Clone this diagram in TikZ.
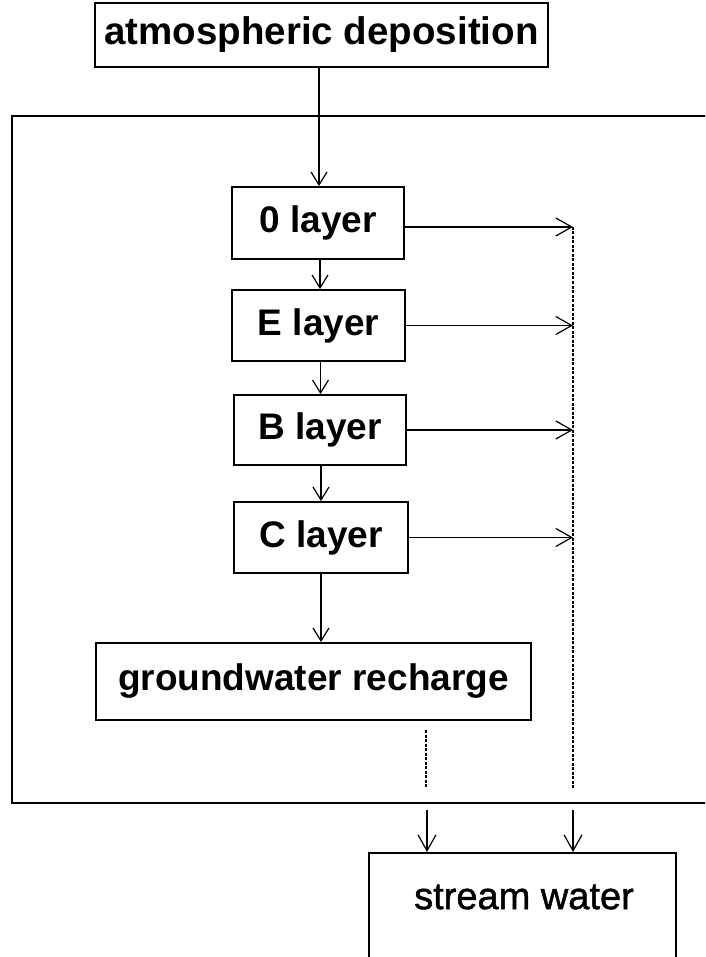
\documentclass[tikz,border=0pt]{standalone}
\usepackage{fontspec}
\setmainfont{Liberation Sans}
\newfontfamily\streamfont[FakeBold=1.2]{Liberation Sans}
\usetikzlibrary{arrows.meta,calc}
\tikzset{
  boxnode/.style={draw, line width=1.8pt, inner sep=0pt, font=\fontsize{37}{44}\selectfont\bfseries},
  flow/.style={line width=1.2pt, -{Straight Barb[length=13pt,width=16pt,line width=1.2pt]}},
  sideflow/.style={line width=1.2pt, -{Straight Barb[length=16pt,width=18pt,line width=1.2pt]}},
  dashline/.style={line width=1.1pt, dash pattern=on 3pt off 1.5pt},
}
\begin{document}
\begin{tikzpicture}[x=1pt,y=-1pt]
\useasboundingbox (0,0) rectangle (705,957);
\clip (0,0) rectangle (705,957);
% frame
\draw[line width=1.8pt] (12,116) rectangle (740,803);
% nodes
\node[boxnode, minimum width=453pt, minimum height=64pt, font=\fontsize{38.5}{44}\selectfont\bfseries] (atm) at (321.5,35) {atmospheric deposition};
\node[boxnode, minimum width=172pt, minimum height=72pt] (o) at (318,223) {0 layer};
\node[boxnode, minimum width=173pt, minimum height=71pt] (e) at (318.5,325.5) {E layer};
\node[boxnode, minimum width=172pt, minimum height=70pt] (b) at (320,430) {B layer};
\node[boxnode, minimum width=174pt, minimum height=71pt] (c) at (321,537.5) {C layer};
\node[boxnode, minimum width=435pt, minimum height=77pt] (gw) at (313.5,681.5) {groundwater recharge};
\node[draw, line width=1.8pt, minimum width=307pt, minimum height=150pt, anchor=north, inner sep=0pt] (stream) at (522.5,852) {};
\node[font=\fontsize{38}{44}\streamfont, inner sep=0pt] (streamtext) at (524,897) {stream water};
% coordinates
\coordinate (t1) at (319,116);
\coordinate (rtop) at (573,227);
\coordinate (rbot) at (573,788);
\coordinate (gtop) at (426,730);
\coordinate (gbot) at (426,788);
\coordinate (a1) at (427,810);
\coordinate (a2) at (573,810);
% top arrow
\draw[line width=1.1pt] (atm.south -| t1) -- (t1);
\draw[flow] (t1) -- (o.north -| t1);
% layer arrows
\draw[flow] ($(o.south)+(2,0)$) -- ($(e.north)+(1.5,0)$);
\draw[flow] ($(e.south)+(2,0)$) -- ($(b.north)+(0.5,0)$);
\draw[flow] ($(b.south)+(1,0)$) -- ($(c.north)+(0,0)$);
\draw[flow] (c.south) -- (c.south |- gw.north);
% side arrows
\draw[sideflow] (o.east |- rtop) -- (rtop);
\draw[sideflow] (e.east) -- (e.east -| rtop);
\draw[sideflow] (b.east) -- (b.east -| rtop);
\draw[sideflow] (c.east) -- (c.east -| rtop);
% dashed lines
\draw[dashline] (rtop) -- (rbot);
\draw[dashline] (gtop) -- (gbot);
% to stream
\draw[sideflow] (a1) -- (a1 |- stream.north);
\draw[sideflow] (a2) -- (a2 |- stream.north);
\end{tikzpicture}
\end{document}
